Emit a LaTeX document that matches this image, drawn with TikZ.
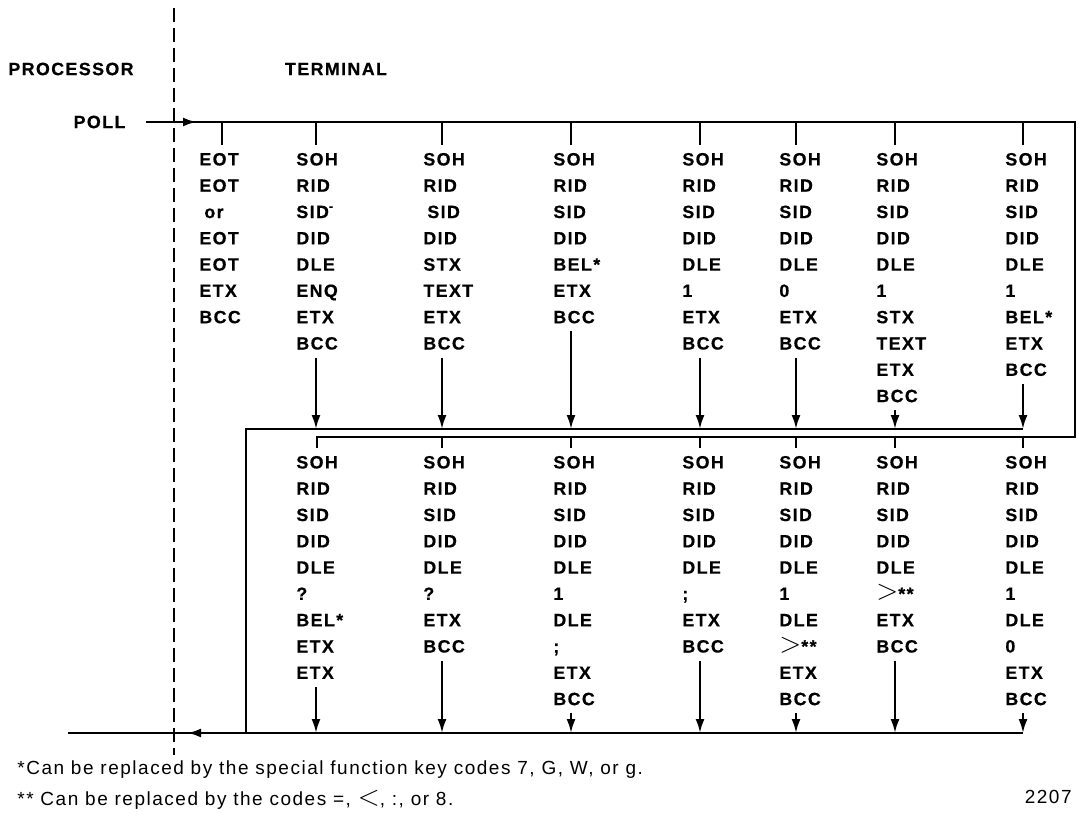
\documentclass[tikz,border=0pt]{standalone}
\usepackage{fontspec}
\setmainfont{Liberation Sans}
\newfontfamily\codefont[LetterSpace=8, FakeBold=0.6]{Liberation Sans}
\newfontfamily\notefont[LetterSpace=8]{Liberation Sans}
\usetikzlibrary{arrows.meta}

\begin{document}
\begin{tikzpicture}[x=0.5pt, y=-0.5pt,
                    codes/.style={anchor=north west, align=left, inner xsep=0pt, inner ysep=3.8pt, font=\codefont\bfseries\fontsize{8.9}{13.15}\selectfont},
                    heading/.style={inner sep=0pt, font=\codefont\bfseries\fontsize{8.9}{10}\selectfont},
                    remark/.style={inner sep=0pt, font=\notefont\fontsize{9.5}{11}\selectfont},
                    flow/.style={line width=1.4pt},
                    stub/.style={line width=1.1pt},
                    arrow/.style={line width=1.1pt, -{Latex[length=7pt,width=4.5pt]}},
                    divider/.style={line width=1pt, dash pattern=on 7pt off 3pt}
                ]
                    \useasboundingbox (0,0) rectangle (1078,814);

                    % headings and divider
                    \node[heading] (proc) at (71,69) {PROCESSOR};
                    \node[heading] (term) at (336,69) {TERMINAL};
                    \node[heading, inner xsep=10pt] (poll) at (99.5,122) {POLL};
                    \coordinate (dtop) at (174,8);
                    \coordinate (dbot) at (174,755);
                    \draw[divider] (dtop) -- (dbot);

                    % line corners
                    \coordinate (pa) at (197,122);
                    \coordinate (ne) at (1075,122);
                    \coordinate (se) at (1075,437);
                    \coordinate (lw) at (317,437);
                    \coordinate (mw) at (246,429);
                    \coordinate (me) at (1023,429);
                    \coordinate (bw) at (246,733);
                    \coordinate (be) at (1023,733);
                    \coordinate (bl) at (68,733);
                    \coordinate (ba) at (187,733);

                    % tap points on the poll line
                    \coordinate (t1) at (222,122);
                    \coordinate (t2) at (316,122);
                    \coordinate (t3) at (442,122);
                    \coordinate (t4) at (571,122);
                    \coordinate (t5) at (700,122);
                    \coordinate (t6) at (796,122);
                    \coordinate (t7) at (895,122);
                    \coordinate (t8) at (1023,122);

                    % first answers
                    \node[codes] (u1) at (199,145) {EOT\\EOT\\\hspace{2.5pt}or\\EOT\\EOT\\ETX\\BCC};
                    \node[codes] (u2) at (296,145) {SOH\\RID\\SID\textsuperscript{-}\\DID\\DLE\\ENQ\\ETX\\BCC};
                    \node[codes] (u3) at (423,145) {SOH\\RID\\\hspace{2pt}SID\\DID\\STX\\TEXT\\ETX\\BCC};
                    \node[codes] (u4) at (553,145) {SOH\\RID\\SID\\DID\\BEL*\\ETX\\BCC};
                    \node[codes] (u5) at (682,145) {SOH\\RID\\SID\\DID\\DLE\\1\\ETX\\BCC};
                    \node[codes] (u6) at (779,145) {SOH\\RID\\SID\\DID\\DLE\\0\\ETX\\BCC};
                    \node[codes] (u7) at (876,145) {SOH\\RID\\SID\\DID\\DLE\\1\\STX\\TEXT\\ETX\\BCC};
                    \node[codes] (u8) at (1005,145) {SOH\\RID\\SID\\DID\\DLE\\1\\BEL*\\ETX\\BCC};

                    % second answers
                    \node[codes] (l1) at (296,448) {SOH\\RID\\SID\\DID\\DLE\\?\\BEL*\\ETX\\ETX};
                    \node[codes] (l2) at (423,448) {SOH\\RID\\SID\\DID\\DLE\\?\\ETX\\BCC};
                    \node[codes] (l3) at (553,448) {SOH\\RID\\SID\\DID\\DLE\\1\\DLE\\;\\ETX\\BCC};
                    \node[codes] (l4) at (682,448) {SOH\\RID\\SID\\DID\\DLE\\;\\ETX\\BCC};
                    \node[codes] (l5) at (779,448) {SOH\\RID\\SID\\DID\\DLE\\1\\DLE\\{\Large$>$}**\\ETX\\BCC};
                    \node[codes] (l6) at (876,448) {SOH\\RID\\SID\\DID\\DLE\\{\Large$>$}**\\ETX\\BCC};
                    \node[codes] (l7) at (1005,448) {SOH\\RID\\SID\\DID\\DLE\\1\\DLE\\0\\ETX\\BCC};

                    % main lines
                    \draw[flow] (poll.east) -- (ne) -- (se) -- (lw) -- (lw |- l1.north);
                    \draw[flow, -{Latex[length=7pt,width=4.5pt]}] (poll.east) -- (pa);
                    \draw[flow] (me) -- (mw) -- (bw);
                    \draw[flow] (be) -- (bl);
                    \draw[flow, -{Latex[length=7pt,width=4.5pt]}] (be) -- (ba);

                    % taps down to the answers
                    \draw[stub] (t1) -- (t1 |- u1.north);
                    \draw[stub] (t2) -- (t2 |- u2.north);
                    \draw[stub] (t3) -- (t3 |- u3.north);
                    \draw[stub] (t4) -- (t4 |- u4.north);
                    \draw[stub] (t5) -- (t5 |- u5.north);
                    \draw[stub] (t6) -- (t6 |- u6.north);
                    \draw[stub] (t7) -- (t7 |- u7.north);
                    \draw[stub] (t8) -- (t8 |- u8.north);
                    \draw[stub] (t3 |- se) -- (t3 |- l2.north);
                    \draw[stub] (t4 |- se) -- (t4 |- l3.north);
                    \draw[stub] (t5 |- se) -- (t5 |- l4.north);
                    \draw[stub] (t6 |- se) -- (t6 |- l5.north);
                    \draw[stub] (t7 |- se) -- (t7 |- l6.north);
                    \draw[stub] (t8 |- se) -- (t8 |- l7.north);

                    % replies back
                    \draw[arrow] (u2.south -| t2) -- (t2 |- mw);
                    \draw[arrow] (u3.south -| t3) -- (t3 |- mw);
                    \draw[arrow] (u4.south -| t4) -- (t4 |- mw);
                    \draw[arrow] (u5.south -| t5) -- (t5 |- mw);
                    \draw[arrow] (u6.south -| t6) -- (t6 |- mw);
                    \draw[arrow] (u7.south -| t7) -- (t7 |- mw);
                    \draw[arrow] (u8.south -| t8) -- (me);
                    \draw[arrow] (l1.south -| t2) -- (t2 |- bw);
                    \draw[arrow] (l2.south -| t3) -- (t3 |- bw);
                    \draw[arrow] (l3.south -| t4) -- (t4 |- bw);
                    \draw[arrow] (l4.south -| t5) -- (t5 |- bw);
                    \draw[arrow] (l5.south -| t6) -- (t6 |- bw);
                    \draw[arrow] (l6.south -| t7) -- (t7 |- bw);
                    \draw[arrow] (l7.south -| t8) -- (be);

                    % footnotes
                    \node[remark, anchor=west] (fn1) at (17,770) {*Can be replaced by the special function key codes 7, G, W, or g.};
                    \node[remark, anchor=west] (fn2) at (17,800) {** Can be replaced by the codes =, {\Large$<$}, :, or 8.};
                    \node[remark, anchor=east] (fig) at (1072,797) {2207};

                \end{tikzpicture}
\end{document}
